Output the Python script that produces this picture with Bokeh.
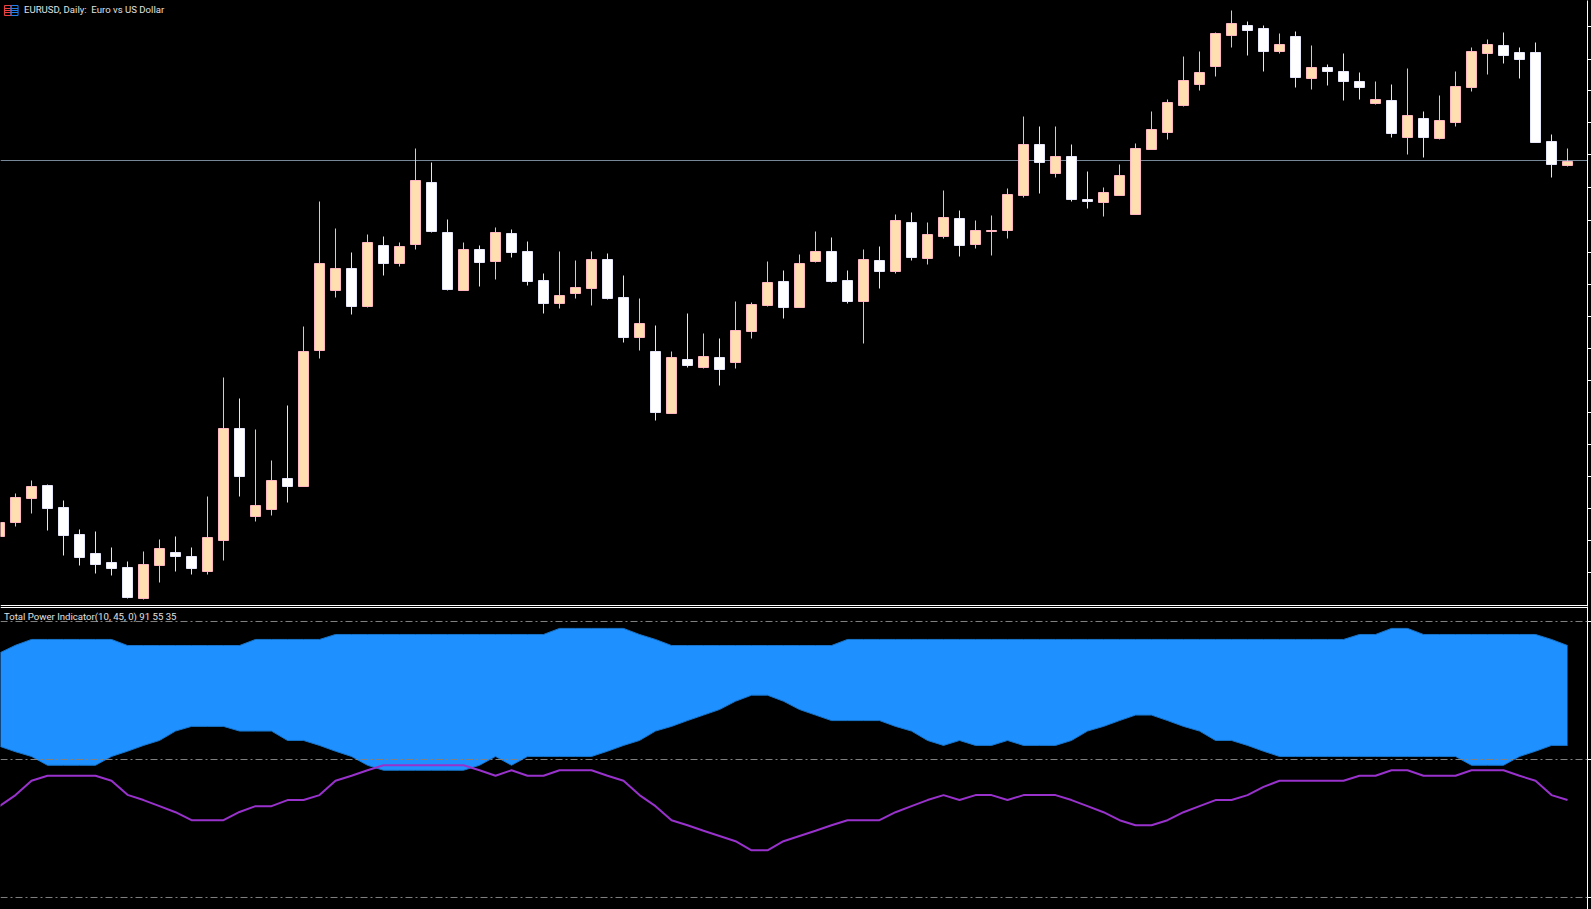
from bokeh.plotting import figure
from bokeh.layouts import column
from bokeh.models import Span, Label, FixedTicker, LinearAxis, Range1d, ColumnDataSource
from bokeh.embed import file_html
from bokeh.resources import INLINE

# Daily candles (price in points above the chart floor), oldest first
opens = [64,78,102,115,93,66,47,38,33,2,35,48,44,29,60,172,84,91,122,114,250,310,332,294,355,337,356,418,368,310,351,339,367,349,320,297,307,312,341,303,263,249,187,241,233,243,238,269,295,319,293,339,349,320,299,340,329,378,342,364,382,356,369,370,405,456,427,444,401,398,405,386,451,468,495,516,534,565,575,572,549,564,522,533,529,519,497,500,463,482,462,478,513,547,555,548,548,459,435]
closes = [78,103,114,92,65,43,36,32,3,36,52,44,32,63,172,124,95,120,114,249,337,332,294,358,337,354,420,369,311,351,338,368,348,319,297,305,313,341,302,263,277,188,243,235,244,231,270,296,318,293,337,349,319,299,341,329,380,343,366,383,355,370,370,406,456,438,444,401,399,408,425,452,471,498,520,528,567,577,570,549,556,523,533,529,519,513,501,467,485,463,480,514,549,556,545,541,458,436,439]
highs = [78,107,120,116,100,71,69,53,39,49,61,64,53,104,223,202,171,140,195,274,399,372,348,366,364,358,452,438,381,358,355,373,371,359,327,349,340,349,347,325,302,275,249,287,267,262,299,298,339,330,346,369,363,330,351,354,386,388,378,410,390,380,385,412,484,474,474,456,429,413,436,457,489,501,544,549,568,590,579,575,567,569,555,536,547,528,519,516,532,489,505,529,553,561,568,553,558,466,452]
lows = [63,74,87,70,45,35,27,25,2,1,18,29,26,26,40,104,79,85,98,114,242,303,286,293,325,334,351,368,310,310,314,321,343,315,287,292,302,295,301,258,250,180,187,233,232,215,232,262,294,282,293,338,318,297,257,312,327,340,336,362,344,352,345,362,403,407,423,399,392,384,405,386,451,461,494,510,524,553,545,529,547,513,511,515,500,501,496,463,446,443,461,474,509,526,537,522,458,423,434]

# Total Power Indicator(10, 45, 0): bulls / bears band and the total power line
band_top = [88.6,91.4,93.5,93.5,93.5,93.5,93.5,93.5,91.3,91.3,91.3,91.3,91.3,91.3,91.3,91.3,93.5,93.5,93.5,93.5,93.5,95.3,95.3,95.3,95.3,95.3,95.3,95.3,95.3,95.3,95.3,95.3,95.3,95.3,95.3,97.5,97.5,97.5,97.5,97.5,95.3,93.5,91.3,91.3,91.3,91.3,91.3,91.3,91.3,91.3,91.3,91.3,91.3,93.5,93.5,93.5,93.5,93.5,93.5,93.5,93.5,93.5,93.5,93.5,93.5,93.5,93.5,93.5,93.5,93.5,93.5,93.5,93.5,93.5,93.5,93.5,93.5,93.5,93.5,93.5,93.5,93.5,93.5,93.5,93.5,95.3,95.3,97.5,97.5,95.3,95.3,95.3,95.3,95.3,95.3,95.3,95.3,93.5,91.3]
band_low = [54.8,52.8,51.1,47.9,47.9,47.9,47.9,51.1,53.0,55.1,56.9,60.3,62.0,62.0,62.0,60.3,60.3,60.3,56.9,56.9,55.1,53.0,51.1,47.9,46.1,46.1,46.1,46.1,46.1,46.1,47.9,51.1,47.9,51.1,51.1,51.1,51.1,51.1,53.0,55.1,56.9,60.3,62.0,64.1,66.1,68.1,71.1,73.3,73.3,71.1,68.1,66.1,64.1,64.1,64.1,64.1,62.0,60.3,56.9,55.1,56.9,55.1,55.1,56.9,55.1,55.1,55.1,56.9,60.3,62.0,64.1,66.1,66.1,64.1,62.0,60.3,56.9,56.9,55.1,53.0,51.1,51.1,51.1,51.1,51.1,51.1,51.1,51.1,51.1,51.1,51.1,51.1,47.9,47.9,47.9,51.1,53.0,55.1,55.1]
power = [33.1,37.1,42.3,44.1,44.1,44.1,44.1,42.3,37.2,35.3,33.1,30.9,28.0,28.0,28.0,31.0,33.1,33.1,35.3,35.3,37.1,42.3,44.1,46.1,47.9,47.9,47.9,47.9,47.9,47.9,46.1,44.1,46.1,44.1,44.1,46.1,46.1,46.1,44.1,42.3,37.1,33.1,28.0,26.2,24.2,22.3,20.4,17.1,17.1,20.4,22.3,24.2,26.2,28.0,28.0,28.0,30.9,33.1,35.3,37.1,35.3,37.1,37.1,35.3,37.1,37.1,37.1,35.3,33.1,30.9,28.0,26.2,26.2,28.0,30.9,33.1,35.3,35.3,37.1,40.1,42.3,42.3,42.3,42.3,42.3,44.1,44.1,46.1,46.1,44.1,44.1,44.1,46.1,46.1,46.1,44.1,42.3,37.1,35.3]

levels = [100, 50, 0]
price_line = 440
price_ticks = [574,541,510,478,446,413,380,348,316,284,252,220,188,156,124,92,60,28]
title_text = "EURUSD, Daily:\u00a0 Euro vs US Dollar"
indicator_text = "Total Power Indicator(10, 45, 0) 91 55 35"

FONT = "Roboto"
BG = "#000000"
DASH = "7 3 2 3"
bars = list(range(len(opens)))
XR = (0.0625, 99.25)   # 16 px per bar


def base(frame_h, y0, y1):
    f = figure(frame_width=1587, frame_height=frame_h, x_range=Range1d(*XR), y_range=Range1d(y0, y1),
               output_backend="svg", toolbar_location=None, x_axis_location=None, y_axis_location=None,
               background_fill_color=BG, border_fill_color=BG, outline_line_color=None,
               min_border=0, min_border_left=0, min_border_right=4, min_border_top=0, min_border_bottom=0,
               styles={"background-color": BG})
    f.grid.visible = False
    return f


def right_axis(f, ticks):
    ax = LinearAxis(ticker=FixedTicker(ticks=ticks), axis_line_color="#FFFFFF", axis_line_width=1,
                    major_tick_line_color="#FFFFFF", major_tick_in=0, major_tick_out=4, minor_tick_line_color=None,
                    major_label_overrides={t: "" for t in ticks}, major_label_standoff=0)
    f.add_layout(ax, "right")


# ---------- price pane
p = base(606, -6, 600)
p.add_layout(Span(location=price_line, dimension="width", line_color="#778899", line_width=1, level="underlay"))
p.add_layout(Span(location=-5, dimension="width", line_color="#FFFFFF", line_width=1))

is_up = [c >= o for o, c in zip(opens, closes)]
src = ColumnDataSource(dict(
    x=bars, o=opens, c=closes, h=highs, l=lows,
    top=[max(o, c) for o, c in zip(opens, closes)],
    bot=[min(o, c) for o, c in zip(opens, closes)],
    fill=["#FFDFB0" if u else "#FFFFFF" for u in is_up],
    edge=["#FFB6C1" if u else "#E6E6FA" for u in is_up],
))
p.segment("x", "h", "x", "l", source=src, line_color="edge", line_width=1)
p.vbar("x", width=0.625, top="top", bottom="bot", source=src, fill_color="fill", line_color="edge", line_width=1)

# terminal's chart icon (red / blue panes)
for x0, x1, col in [(0.31, 0.72, "#F04040"), (0.72, 1.16, "#2080F0")]:
    p.quad(left=[x0], right=[x1], top=[595], bottom=[585], fill_color=None, line_color=col, line_width=1)
    p.segment([x0, x0, x0], [592, 590, 588], [x1, x1, x1], [592, 590, 588], line_color=col, line_width=1)
p.add_layout(Label(x=1.53, y=591.5, text=title_text, text_color="#E0E0E0", text_font=FONT,
                   text_font_size="9.6px", text_baseline="middle"))
right_axis(p, price_ticks)

# ---------- indicator pane
q = base(303, -4.348, 105.435)
q.varea(x=bars, y1=band_low, y2=band_top, fill_color="#1E90FF")
q.line(bars, band_top, line_color="#1873C8", line_width=1)
q.line(bars, band_low, line_color="#1873C8", line_width=1)
q.line(bars, power, line_color="#9932CC", line_width=2)
for lv in levels:
    q.add_layout(Span(location=lv, dimension="width", line_color="#808080", line_width=1, line_dash=DASH))

# the middle level shows brownish where it runs over the band
mid = levels[1]
run_start = None
for i in range(1, len(bars)):
    a, b = band_low[i - 1], band_low[i]
    if (a - mid) * (b - mid) < 0:
        cross = bars[i - 1] + (a - mid) / (a - b)
        if b < mid:
            run_start = cross
        elif run_start is not None:
            off = int(16 * (run_start - XR[0])) % 15
            q.segment([run_start], [mid], [cross], [mid], line_color="#A08050", line_width=1,
                      line_dash=DASH, line_dash_offset=off)
            run_start = None

q.add_layout(Span(location=105.07, dimension="width", line_color="#FFFFFF", line_width=1))
q.add_layout(Label(x=0.28, y=101.7, text=indicator_text, text_color="#E0E0E0", text_font=FONT,
                   text_font_size="9.6px", text_baseline="middle"))
right_axis(q, levels)

page = column(p, q, spacing=0, styles={"background-color": BG})
open("out.html", "w").write(file_html(page, INLINE))
